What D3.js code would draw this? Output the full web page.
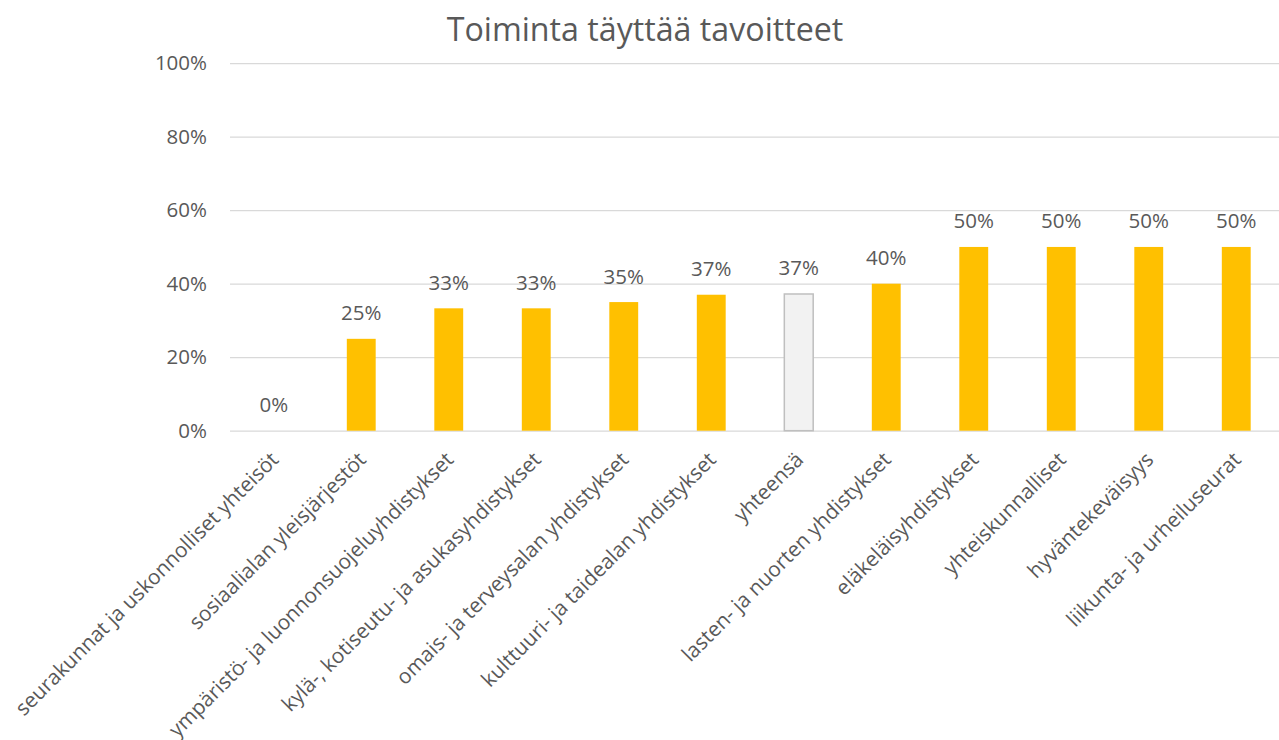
<!DOCTYPE html>
<html>
<head>
<meta charset="utf-8">
<script src="https://cdn.jsdelivr.net/npm/d3@7"></script>
<style>
    body { margin: 0; background: #fff; }
    text { font-family: "Open Sans", sans-serif; fill: #595959; }
</style>
</head>
<body>
<div id="chart"></div>
<script>
    // data
    var categories = [
        "seurakunnat ja uskonnolliset yhteisöt",
        "sosiaalialan yleisjärjestöt",
        "ympäristö- ja luonnonsuojeluyhdistykset",
        "kylä-, kotiseutu- ja asukasyhdistykset",
        "omais- ja terveysalan yhdistykset",
        "kulttuuri- ja taidealan yhdistykset",
        "yhteensä",
        "lasten- ja nuorten yhdistykset",
        "eläkeläisyhdistykset",
        "yhteiskunnalliset",
        "hyväntekeväisyys",
        "liikunta- ja urheiluseurat"
    ];
    var values = [0, 0.25, 0.333, 0.333, 0.35, 0.37, 0.372, 0.40, 0.50, 0.50, 0.50, 0.50];
    var yTicks = [0, 0.2, 0.4, 0.6, 0.8, 1.0];
    var totalCategory = "yhteensä";
    var title = "Toiminta täyttää tavoitteet";

    const w = 1279
    const h = 740

    const svg = d3.select("#chart")
        .append("svg")
        .attr("width", w)
        .attr("height", h)

    var x = d3.scaleBand()
        .domain(categories)
        .range([230, 1280])
        .paddingInner(0.67)
        .paddingOuter(0.335);

    var y = d3.scaleLinear()
        .domain([0, 1])
        .range([430.7, 63.2]);

    var pct = d3.format(".0%");

    // title
    svg.append("text")
        .attr("x", 645)
        .attr("y", 41)
        .attr("text-anchor", "middle")
        .style("font-size", "32.2px")
        .text(title);

    // y axis, gridlines only
    var yAxis = d3.axisLeft(y)
        .tickValues(yTicks)
        .tickFormat(pct)
        .tickSize(-1050)
        .tickPadding(23);

    var gy = svg.append("g")
        .attr("transform", "translate(230,0)")
        .call(yAxis);
    gy.select(".domain").remove();
    gy.selectAll(".tick line").attr("stroke", "#d9d9d9").attr("stroke-width", 1.3);
    gy.selectAll(".tick text")
        .attr("fill", "#595959")
        .style("font-family", "'Open Sans', sans-serif")
        .style("font-size", "20.5px");

    // bars
    svg.selectAll("rect.bar")
        .data(values)
        .enter()
        .append("rect")
        .attr("class", "bar")
        .attr("x", function(d, i) { return x(categories[i]); })
        .attr("width", x.bandwidth())
        .attr("y", function(d) { return y(d); })
        .attr("height", function(d) { return y(0) - y(d); })
        .attr("fill", function(d, i) { return categories[i] === totalCategory ? "#f2f2f2" : "#ffc000"; })
        .attr("stroke", function(d, i) { return categories[i] === totalCategory ? "#bfbfbf" : "none"; })
        .attr("stroke-width", 1.5);

    // value labels
    svg.selectAll("text.value")
        .data(values)
        .enter()
        .append("text")
        .attr("class", "value")
        .attr("x", function(d, i) { return x(categories[i]) + x.bandwidth() / 2; })
        .attr("y", function(d) { return y(d) - 18.5; })
        .attr("text-anchor", "middle")
        .style("font-size", "20.5px")
        .text(function(d) { return pct(d); });

    // x labels, rotated
    svg.selectAll("text.cat")
        .data(categories)
        .enter()
        .append("text")
        .attr("class", "cat")
        .attr("text-anchor", "end")
        .attr("transform", function(d) {
            var cx = x(d) + x.bandwidth() / 2;
            return "translate(" + (cx + 6) + ",461) rotate(-45)";
        })
        .style("font-size", "20.8px")
        .text(function(d) { return d; });
</script>
</body>
</html>
